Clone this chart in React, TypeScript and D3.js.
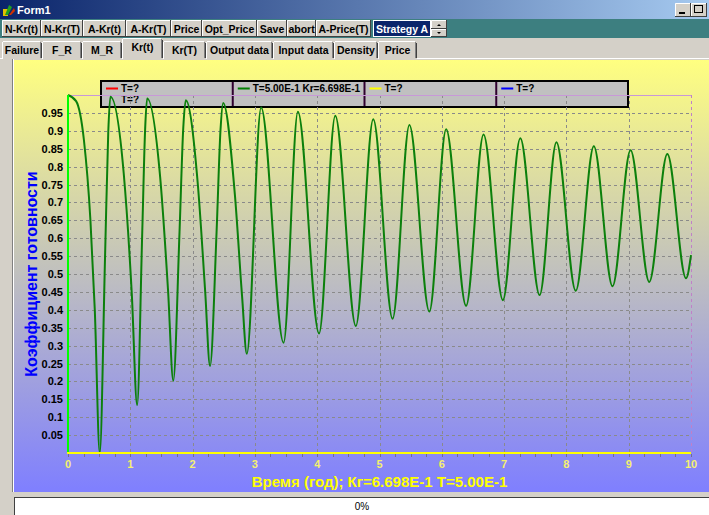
import React from "react";
import * as d3 from "d3";

// ---- data ----
const timeYears = [
  0, 0.13, 0.255, 0.36, 0.43, 0.51, 0.595, 0.646, 0.68, 0.895, 1.024, 1.11, 1.19, 1.238, 1.27,
  1.48, 1.606, 1.69, 1.79, 1.85, 1.89, 2.085, 2.202, 2.28, 2.385, 2.448, 2.49, 2.68, 2.794, 2.87,
  3.1, 3.46, 3.69, 4.03, 4.29, 4.62, 4.9, 5.21, 5.48, 5.8, 6.07, 6.39, 6.67, 6.98, 7.26, 7.57,
  7.84, 8.15, 8.44, 8.74, 9.03, 9.33, 9.62, 9.92, 10.0,
];
const krValues = [
  1.0, 0.983, 0.875, 0.65, 0.4, 0.0, 0.55, 0.895, 0.995, 0.78, 0.444, 0.134, 0.605, 0.904, 0.99,
  0.769, 0.454, 0.202, 0.617, 0.907, 0.985, 0.748, 0.451, 0.243, 0.618, 0.903, 0.978, 0.719, 0.438, 0.277,
  0.965, 0.308, 0.953, 0.334, 0.942, 0.355, 0.932, 0.375, 0.916, 0.395, 0.904, 0.411, 0.89, 0.427, 0.879, 0.441,
  0.868, 0.453, 0.857, 0.466, 0.846, 0.478, 0.835, 0.488, 0.553,
];
const yTickValues = [0.05, 0.1, 0.15, 0.2, 0.25, 0.3, 0.35, 0.4, 0.45, 0.5, 0.55, 0.6, 0.65, 0.7, 0.75, 0.8, 0.85, 0.9, 0.95];
const yTickLabels = ["0.05", "0.1", "0.15", "0.2", "0.25", "0.3", "0.35", "0.4", "0.45", "0.5", "0.55", "0.6", "0.65", "0.7", "0.75", "0.8", "0.85", "0.9", "0.95"];
const xTickValues = [0, 1, 2, 3, 4, 5, 6, 7, 8, 9, 10];
const xTickLabels = ["0", "1", "2", "3", "4", "5", "6", "7", "8", "9", "10"];
const legendLabels = ["T=?", "T=5.00E-1 Kr=6.698E-1", "T=?", "T=?"];
const legendColors = ["#ff0000", "#008000", "#ffff00", "#0000ff"];
const toolbarLabels = ["N-Kr(t)", "N-Kr(T)", "A-Kr(t)", "A-Kr(T)", "Price", "Opt_Price", "Save", "abort", "A-Price(T)"];
const tabLabels = ["Failure", "F_R", "M_R", "Kr(t)", "Kr(T)", "Output data", "Input data", "Density", "Price"];
const yAxisTitle = "Коэффициент готовности";
const xAxisTitle = "Время (год); Кг=6.698E-1 T=5.00E-1";
const windowTitle = "Form1";
const strategyLabel = "Strategy A";
const progressLabel = "0%";

// ---- layout ----
const W = 709;
const H = 515;
const FACE = "#d4d0c8";
const UI_FONT = "'Liberation Sans Narrow', 'Arial Narrow', 'Liberation Sans', Arial, sans-serif";
const btnWidths = [39, 42, 43, 45, 31, 55, 30, 29, 55];
const tabWidths = [40, 40, 40, 41, 43, 67, 61, 44, 39];
const selectedTab = 3;

function Bevel({ x, y, w, h, fill = FACE, raised = true }: any) {
  const lt = raised ? "#ffffff" : "#808080";
  const rb = raised ? "#404040" : "#ffffff";
  return (
    <g>
      <rect x={x} y={y} width={w} height={h} fill={fill} />
      <line x1={x + 0.5} y1={y + 0.5} x2={x + w - 0.5} y2={y + 0.5} stroke={lt} />
      <line x1={x + 0.5} y1={y + 0.5} x2={x + 0.5} y2={y + h - 0.5} stroke={lt} />
      <line x1={x} y1={y + h - 0.5} x2={x + w} y2={y + h - 0.5} stroke={rb} />
      <line x1={x + w - 0.5} y1={y} x2={x + w - 0.5} y2={y + h} stroke={rb} />
    </g>
  );
}

export default function App() {
  const x = d3.scaleLinear().domain([0, 10]).range([68, 691]);
  const y = d3.scaleLinear().domain([0, 1]).range([453, 95]);
  const pts: [number, number][] = timeYears.map((t, i) => [t, krValues[i]]);
  const line = d3
    .line<[number, number]>()
    .x((d) => x(d[0]))
    .y((d) => y(d[1]))
    .curve(d3.curveMonotoneX);
  const minorTicks = d3.range(0, 10.001, 0.25);

  // toolbar positions
  let bx = 2;
  const buttons = toolbarLabels.map((l, i) => {
    const b = { label: l, x: bx, w: btnWidths[i] };
    bx += btnWidths[i];
    return b;
  });
  let tx = 2;
  const tabs = tabLabels.map((l, i) => {
    const t = { label: l, x: tx, w: tabWidths[i] };
    tx += tabWidths[i];
    return t;
  });

  const legX0 = 101;
  const legX1 = 628;
  const colW = (legX1 - legX0) / 4;

  return (
    <div style={{ position: "absolute", left: 0, top: 0 }}>
      <svg width={W} height={H} style={{ display: "block" }}>
        <defs>
          <linearGradient id="title" x1="0" x2="1" y1="0" y2="0">
            <stop offset="0" stopColor="#0a246a" />
            <stop offset="1" stopColor="#a6caf0" />
          </linearGradient>
          <linearGradient id="panel" x1="0" x2="0" y1="0" y2="1">
            <stop offset="0" stopColor="#ffff80" />
            <stop offset="1" stopColor="#7f7fff" />
          </linearGradient>
        </defs>
        <rect x={0} y={0} width={W} height={H} fill={FACE} />

        {/* title bar */}
        <rect x={0} y={0} width={W} height={19} fill="url(#title)" />
        <g transform="translate(3,3)">
          <rect x={0} y={6} width={5} height={7} fill="#e0c000" />
          <path d="M2,12 L6,2 L9,4 L5,12 Z" fill="#20a020" />
          <path d="M6,12 L11,5 L12,8 L8,12 Z" fill="#d03000" />
        </g>
        <text x={17} y={14} fill="#ffffff" fontFamily={UI_FONT} fontWeight="bold" fontSize={11}>
          {windowTitle}
        </text>
        {[675, 691, 709].map((bx2, i) => (
          <g key={"wb" + i}>
            <Bevel x={bx2} y={3} w={16} h={14} />
            {i === 0 && <rect x={bx2 + 4} y={12} width={6} height={2} fill="#000" />}
            {i === 1 && <rect x={bx2 + 3.5} y={5.5} width={8} height={7} fill="none" stroke="#000" />}
          </g>
        ))}

        {/* toolbar row */}
        <rect x={0} y={19} width={W} height={19} fill="#3d7f80" />
        {buttons.map((b, i) => (
          <g key={"b" + i}>
            <Bevel x={b.x} y={20} w={b.w} h={17} />
            <text x={b.x + b.w / 2} y={32.5} textAnchor="middle" fontFamily={UI_FONT} fontWeight="bold" fontSize={10.5} fill="#000">
              {b.label}
            </text>
          </g>
        ))}
        <rect x={373} y={20} width={58} height={17} fill="#ffffff" />
        <rect x={374} y={21} width={56} height={15} fill="#0a246a" />
        <text x={376} y={32.5} fontFamily={UI_FONT} fontWeight="bold" fontSize={10.5} fill="#ffffff">
          {strategyLabel}
        </text>
        <Bevel x={431} y={20} w={16} h={9} />
        <Bevel x={431} y={29} w={16} h={8} />
        <path d="M437,26 L441,26 L439,24 Z" fill="#000" />
        <path d="M437,32 L441,32 L439,34 Z" fill="#000" />

        {/* tabs row */}
        <rect x={0} y={38} width={W} height={22} fill={FACE} />
        <line x1={0} y1={58.5} x2={W} y2={58.5} stroke="#ffffff" />
        {tabs.map((t, i) => {
          const sel = i === selectedTab;
          const ty = sel ? 38 : 41;
          return (
            <g key={"t" + i}>
              <rect x={t.x} y={ty} width={t.w} height={59 - ty + (sel ? 1 : 0)} fill={FACE} />
              <line x1={t.x + 0.5} y1={ty + 1} x2={t.x + 0.5} y2={59} stroke="#ffffff" />
              <line x1={t.x + 1} y1={ty + 0.5} x2={t.x + t.w - 2} y2={ty + 0.5} stroke="#ffffff" />
              <line x1={t.x + t.w - 1.5} y1={ty + 1} x2={t.x + t.w - 1.5} y2={58} stroke="#808080" />
              <line x1={t.x + t.w - 0.5} y1={ty + 2} x2={t.x + t.w - 0.5} y2={58} stroke="#404040" />
              <text x={t.x + t.w / 2} y={sel ? 51 : 54} textAnchor="middle" fontFamily={UI_FONT} fontWeight="bold" fontSize={10.5} fill="#000">
                {t.label}
              </text>
            </g>
          );
        })}

        {/* chart panel */}
        <line x1={12.5} y1={59} x2={12.5} y2={493} stroke="#808080" />
        <line x1={13.5} y1={59} x2={13.5} y2={493} stroke="#ffffff" />
        <rect x={14} y={60} width={W - 14} height={432} fill="url(#panel)" />

        {/* legend */}
        <rect x={legX0} y={81} width={legX1 - legX0} height={26} fill="#c0c0c0" stroke="#000" strokeWidth={2} />
        {[1, 2, 3].map((k) => (
          <line key={"ls" + k} x1={legX0 + k * colW} y1={82} x2={legX0 + k * colW} y2={106} stroke="#300030" strokeWidth={2} />
        ))}
        {legendLabels.map((l, i) => (
          <g key={"lg" + i}>
            <line x1={legX0 + i * colW + 5} y1={88.5} x2={legX0 + i * colW + 17} y2={88.5} stroke={legendColors[i]} strokeWidth={2} />
            <text x={legX0 + i * colW + 20} y={92} fontFamily={UI_FONT} fontWeight="bold" fontSize={10} fill="#000">
              {l}
            </text>
          </g>
        ))}
        <text x={legX0 + 20} y={103} fontFamily={UI_FONT} fontWeight="bold" fontSize={10} fill="#000">
          T=?
        </text>

        {/* grid */}
        {yTickValues.map((v, i) => (
          <line key={"hg" + i} x1={68} x2={691} y1={Math.round(y(v)) + 0.5} y2={Math.round(y(v)) + 0.5} stroke="#8a8a8a" strokeDasharray="3,3" />
        ))}
        {xTickValues.slice(1, -1).map((v, i) => (
          <line key={"vg" + i} x1={Math.round(x(v)) + 0.5} x2={Math.round(x(v)) + 0.5} y1={95} y2={453} stroke="#8a8a8a" strokeDasharray="3,3" />
        ))}
        <line x1={68} x2={691} y1={95.5} y2={95.5} stroke="#c898d8" />
        <line x1={691.5} x2={691.5} y1={95} y2={453} stroke="#c080c8" strokeDasharray="3,3" />

        {/* minor ticks */}
        {minorTicks.map((v, i) => (
          <line key={"mt" + i} x1={Math.round(x(v)) + 0.5} x2={Math.round(x(v)) + 0.5} y1={454} y2={457} stroke="#707090" />
        ))}

        {/* curve */}
        <path d={line(pts) || ""} fill="none" stroke="#0c800c" strokeWidth={2} strokeLinejoin="round" />

        {/* axes */}
        <line x1={68} x2={68} y1={95} y2={454} stroke="#00ff00" strokeWidth={2} />
        <line x1={67} x2={691} y1={453} y2={453} stroke="#ffff00" strokeWidth={2} />

        {/* y tick labels */}
        {yTickValues.map((v, i) => (
          <text key={"yl" + i} x={63} y={y(v) + 4} textAnchor="end" fontFamily="'Liberation Sans', Arial, sans-serif" fontWeight="bold" fontSize={11} fill="#000">
            {yTickLabels[i]}
          </text>
        ))}
        {/* x tick labels */}
        {xTickValues.map((v, i) => (
          <text key={"xl" + i} x={x(v)} y={468} textAnchor="middle" fontFamily="'Liberation Sans', Arial, sans-serif" fontWeight="bold" fontSize={11} fill="#f4f070">
            {xTickLabels[i]}
          </text>
        ))}

        {/* axis titles */}
        <text
          transform={`translate(37,${(y(0) + y(1)) / 2}) rotate(-90)`}
          textAnchor="middle"
          fontFamily="'Liberation Sans', Arial, sans-serif"
          fontWeight="bold"
          fontSize={16}
          fill="#0000ff"
        >
          {yAxisTitle}
        </text>
        <text x={(x(0) + x(10)) / 2} y={487} textAnchor="middle" fontFamily="'Liberation Sans', Arial, sans-serif" fontWeight="bold" fontSize={15} fill="#ffff00">
          {xAxisTitle}
        </text>

        {/* bottom strip & progress bar */}
        <rect x={0} y={492} width={W} height={5} fill={FACE} />
        <rect x={14} y={497} width={W - 14} height={18} fill="#ffffff" />
        <line x1={14} y1={497.5} x2={W} y2={497.5} stroke="#404040" />
        <line x1={14.5} y1={497} x2={14.5} y2={H} stroke="#404040" />
        <text x={362} y={510} textAnchor="middle" fontFamily={UI_FONT} fontSize={10} fill="#000">
          {progressLabel}
        </text>
      </svg>
    </div>
  );
}
